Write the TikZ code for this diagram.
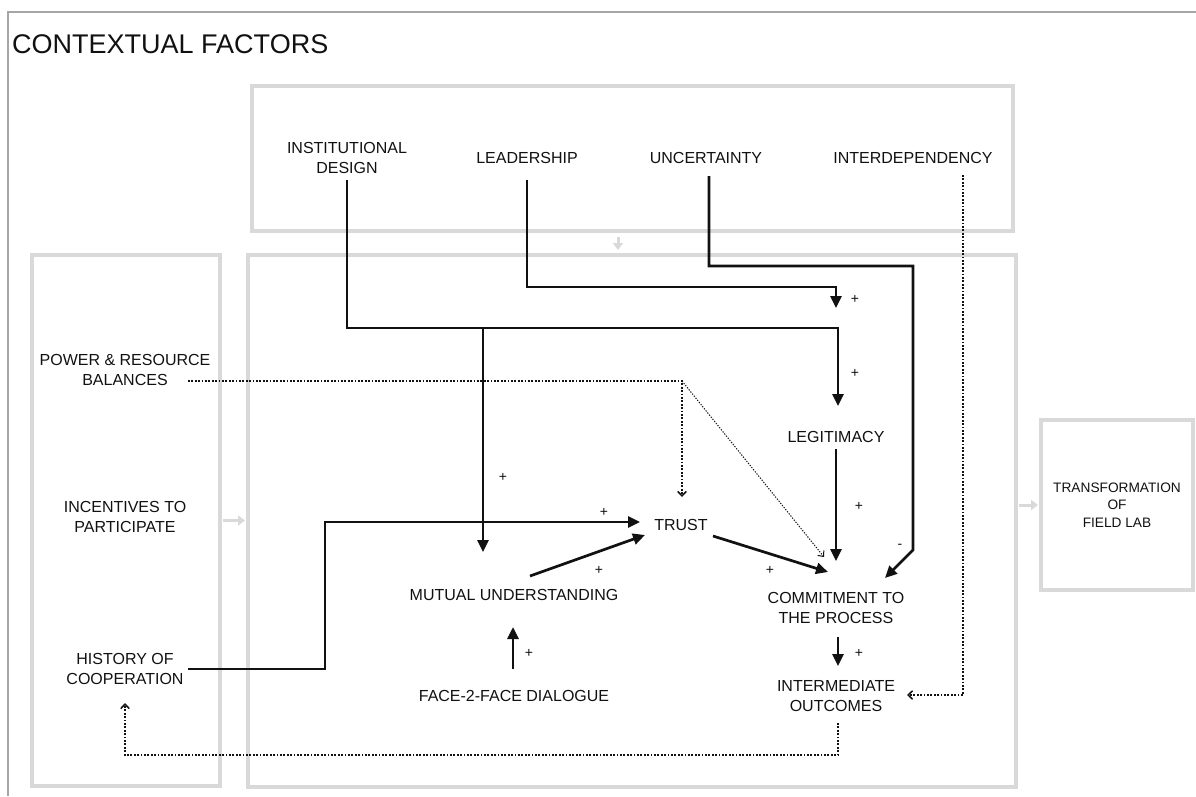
\documentclass[tikz,border=0pt]{standalone}
\usepackage{fontspec}
\setmainfont{Liberation Sans}
\usetikzlibrary{arrows.meta,calc}
\definecolor{boxgray}{HTML}{D9D9D9}
\definecolor{framegray}{HTML}{A6A6A6}
\definecolor{ink}{HTML}{111111}
\begin{document}
\begin{tikzpicture}[x=1pt,y=-1pt,
  txt/.style={inner sep=0pt, align=center, text=ink, font=\fontsize{16}{20}\selectfont},
  sign/.style={inner sep=0pt, text=ink, font=\fontsize{14}{15}\selectfont},
  panel/.style={draw=boxgray, line width=4pt, inner sep=0pt, outer sep=0pt},
  link/.style={draw=ink, line width=2.7pt, -{Triangle[length=12pt,width=11pt]}},
  weak/.style={draw=ink, line width=1.8pt, dash pattern=on 1.8pt off 1.6pt,
    -{Straight Barb[length=4.5pt,width=8.5pt,line width=1.5pt]}},
  faint/.style={draw=ink, line width=1pt, dash pattern=on 1.3pt off 1.4pt,
    -{Straight Barb[length=4.5pt,width=8pt,line width=1pt]}},
  flow/.style={draw=boxgray, line width=3pt, -{Triangle[length=7pt,width=10pt]},
    shorten <=2.5pt, shorten >=3pt}
]
\useasboundingbox (0,0) rectangle (1196,796);

% outer frame of the contextual factors
\draw[framegray, line width=1.5pt] (1196,12) -- (8,12) -- (8,796);
\node[anchor=base west, inner sep=0pt, text=ink, font=\fontsize{27}{32}\selectfont]
  (title) at (12,53) {CONTEXTUAL FACTORS};

% panels
\node[panel, minimum width=761pt, minimum height=145pt] (topbox) at (632.5,158.5) {};
\node[panel, minimum width=768pt, minimum height=532pt] (mainbox) at (632,521) {};
\node[panel, minimum width=188pt, minimum height=531pt] (leftbox) at (126,520.5) {};
\node[panel, minimum width=152pt, minimum height=170pt, align=center, text=ink,
  font=\fontsize{13.7}{17.5}\selectfont] (fieldlab) at (1117,505)
  {TRANSFORMATION\\OF\\FIELD LAB};

% flows between panels
\draw[flow, shorten <=6pt, shorten >=5pt] ($(topbox.south)+(-14.5,0)$) -- ($(mainbox.north)+(-14,0)$);
\draw[flow] (leftbox.east) -- (leftbox.east -| mainbox.west);
\draw[flow] (mainbox.east |- fieldlab.west) -- (fieldlab.west);

% factors
\node[txt] (inst) at (347,158) {INSTITUTIONAL\\DESIGN};
\node[txt] (lead) at (527,158) {LEADERSHIP};
\node[txt] (unc) at (706,158) {UNCERTAINTY};
\node[txt] (inter) at (913,158) {INTERDEPENDENCY};
\node[txt] (power) at (125,370) {POWER \& RESOURCE\\BALANCES};
\node[txt] (incent) at (125,517) {INCENTIVES TO\\PARTICIPATE};
\node[txt] (hist) at (125,669) {HISTORY OF\\COOPERATION};

% collaborative process
\node[txt] (legit) at (836,437) {LEGITIMACY};
\node[txt] (trust) at (681,525) {TRUST};
\node[txt] (mutual) at (514,595) {MUTUAL UNDERSTANDING};
\node[txt] (face) at (514,696) {FACE-2-FACE DIALOGUE};
\node[txt] (commit) at (836,608) {COMMITMENT TO\\THE PROCESS};
\node[txt] (interm) at (836,696) {INTERMEDIATE\\OUTCOMES};

% junction points of the routed links
\coordinate (idbar) at (838,328);
\coordinate (idbranch) at (483,328);
\coordinate (leadbar) at (836,287);
\coordinate (uncbar) at (913,266);
\coordinate (uncdrop) at (913,550);
\coordinate (pwrcorner) at (682,381);
\coordinate (histup) at (325,522);

% institutional design
\draw[link] ($(inst)+(0,22)$) |- (idbar) -- ($(legit)+(2,-31)$);
\draw[link] (idbranch) -- ($(mutual)+(-31,-43)$);
% leadership moderates institutional design
\draw[link] ($(lead)+(0,22)$) |- (leadbar) -- ($(idbar)+(-2,-20)$);
% uncertainty
\draw[link] ($(unc)+(3,18)$) |- (uncbar) -- (uncdrop) -- ($(commit)+(49,-30)$);
% interdependency
\draw[weak] ($(inter)+(50,17)$) |- ($(interm)+(71,-1)$);
% power and resource balances
\draw[weak] ($(power)+(63,11)$) -- (pwrcorner) -- ($(trust)+(1,-28)$);
\draw[faint] (pwrcorner) -- ($(commit)+(-12,-51)$);
% history of cooperation
\draw[link] ($(hist)+(63,0)$) -| (histup) -- ($(trust)+(-41,-3)$);
% inner cycle
\draw[link] ($(face)+(-1,-27)$) -- ($(mutual)+(-1,32)$);
\draw[link] ($(mutual)+(16,-19)$) -- ($(trust)+(-36,10)$);
\draw[link] ($(trust)+(32,11)$) -- ($(commit)+(-8,-36)$);
\draw[link] ($(legit)+(0,12)$) -- ($(commit)+(0,-47)$);
\draw[link] ($(commit)+(2,29)$) -- ($(interm)+(2,-30)$);
% feedback to history of cooperation
\draw[weak] ($(interm)+(2,27)$) |- ($(hist)+(0,86)$) -- ($(hist)+(0,34)$);

% signs
\node[sign] (s1) at (855,299) {+};
\node[sign] (s2) at (855,373) {+};
\node[sign] (s3) at (503,477) {+};
\node[sign] (s4) at (604,512) {+};
\node[sign] (s5) at (599,570) {+};
\node[sign] (s6) at (529,653) {+};
\node[sign] (s7) at (770,570) {+};
\node[sign] (s8) at (859,506) {+};
\node[sign] (s9) at (859,653) {+};
\node[sign] (s10) at (900,546) {-};
\end{tikzpicture}
\end{document}
